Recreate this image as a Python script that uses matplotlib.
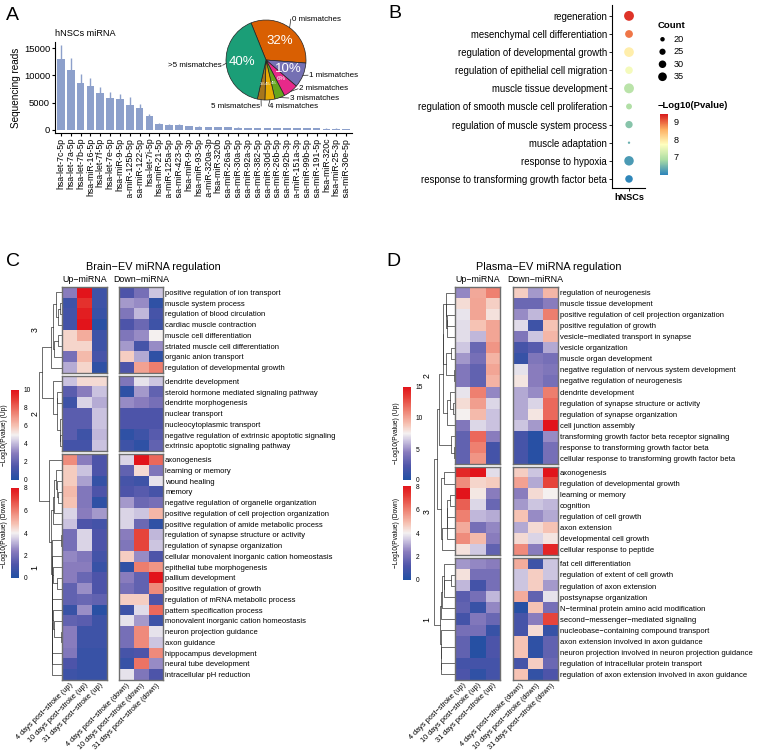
"""Multi-panel miRNA figure: read counts, GO dot plot and two clustered GO heatmaps."""

import numpy as np
import matplotlib
matplotlib.use("Agg")
import matplotlib.pyplot as plt
from matplotlib.colors import LinearSegmentedColormap, Normalize
from matplotlib.cm import ScalarMappable
from matplotlib.transforms import Bbox, TransformedBbox

W, H = 760, 756
plt.rcParams["font.family"] = ["Liberation Sans", "DejaVu Sans"]

# ---------------- panel A data ----------------
MIRNA = ["hsa-let-7c-5p", "hsa-let-7a-5p", "hsa-let-7b-5p", "hsa-miR-16-5p", "hsa-let-7f-5p",
         "hsa-let-7e-5p", "hsa-miR-9-5p", "hsa-miR-125b-5p", "hsa-miR-122-5p", "hsa-let-7i-5p",
         "hsa-miR-21-5p", "hsa-miR-125a-5p", "hsa-miR-423-5p", "hsa-miR-9-3p", "hsa-miR-93-5p",
         "hsa-miR-320a-3p", "hsa-miR-320b", "hsa-miR-26a-5p", "hsa-miR-30a-5p", "hsa-miR-92a-3p",
         "hsa-miR-382-5p", "hsa-miR-30d-5p", "hsa-miR-26b-5p", "hsa-miR-92b-3p", "hsa-miR-151a-3p",
         "hsa-miR-99b-5p", "hsa-miR-191-5p", "hsa-miR-320c", "hsa-miR-25-3p", "hsa-miR-30e-5p"]
READS = [13000, 11000, 8600, 8000, 6700, 5800, 5600, 4500, 4100, 2500,
         1100, 950, 900, 700, 600, 560, 540, 460, 420, 380,
         350, 330, 320, 310, 300, 290, 280, 270, 260, 250]
READS_SD = [2600, 2100, 1600, 1600, 1200, 1100, 900, 1600, 650, 500,
            200, 170, 150, 100, 80, 70, 60, 60, 50, 40,
            40, 30, 30, 30, 30, 25, 25, 25, 20, 20]

MISMATCH = ["0 mismatches", "1 mismatches", "2 mismatches", "3 mismatches",
            "4 mismatches", "5 mismatches", ">5 mismatches"]
MISMATCH_PCT = [32, 10, 6, 4, 4, 3, 40]
MISMATCH_COLORS = ["#D95F02", "#7570B3", "#E7298A", "#66A61E", "#E6AB02", "#A6761D", "#1B9E77"]

# ---------------- panel B data ----------------
GO_TERMS = ["regeneration", "mesenchymal cell differentiation", "regulation of developmental growth",
            "regulation of epithelial cell migration", "muscle tissue development",
            "regulation of smooth muscle cell proliferation", "regulation of muscle system process",
            "muscle adaptation", "response to hypoxia", "response to transforming growth factor beta"]
GO_COUNT = [41, 31, 40, 30, 41, 24, 29, 16, 39, 30]
GO_LOGP = [9.3, 8.9, 7.9, 7.6, 7.0, 6.9, 6.6, 6.4, 6.2, 6.0]
COUNT_BREAKS = [20, 25, 30, 35]
LOGP_TICKS = [7, 8, 9]

# ---------------- panel C data (Brain-EV) ----------------
COLS_UP = ["4 days post\u2212stroke (up)", "10 days post\u2212stroke (up)", "31 days post\u2212stroke (up)"]
COLS_DOWN = ["4 days post\u2212stroke (down)", "10 days post\u2212stroke (down)", "31 days post\u2212stroke (down)"]

BRAIN_CLUSTERS = ["3", "2", "1"]
BRAIN_TERMS = [
    ["positive regulation of ion transport", "muscle system process", "regulation of blood circulation",
     "cardiac muscle contraction", "muscle cell differentiation", "striated muscle cell differentiation",
     "organic anion transport", "regulation of developmental growth"],
    ["dendrite development", "steroid hormone mediated signaling pathway", "dendrite morphogenesis",
     "nuclear transport", "nucleocytoplasmic transport",
     "negative regulation of extrinsic apoptotic signaling", "extrinsic apoptotic signaling pathway"],
    ["axonogenesis", "learning or memory", "wound healing", "memory",
     "negative regulation of organelle organization", "positive regulation of cell projection organization",
     "positive regulation of amide metabolic process", "regulation of synapse structure or activity",
     "regulation of synapse organization", "cellular monovalent inorganic cation homeostasis",
     "epithelial tube morphogenesis", "pallium development", "positive regulation of growth",
     "regulation of mRNA metabolic process", "pattern specification process",
     "monovalent inorganic cation homeostasis", "neuron projection guidance", "axon guidance",
     "hippocampus development", "neural tube development", "intracellular pH reduction"],
]
BRAIN_UP = [
    [[3.0, 10.0, 1.0], [1.0, 9.2, 1.0], [1.2, 9.7, 0.8], [1.2, 10.0, 0.3],
     [5.6, 6.5, 1.0], [5.6, 5.6, 1.0], [2.5, 6.2, 1.3], [3.8, 5.6, 0.5]],
    [[4.2, 5.5, 5.5], [1.8, 3.0, 4.2], [1.0, 4.5, 3.8], [1.8, 1.8, 4.2],
     [1.8, 1.8, 4.2], [1.8, 1.0, 4.0], [1.2, 1.2, 4.2]],
    [[7.2, 3.0, 1.5], [5.8, 4.2, 1.5], [5.8, 3.6, 0.7], [6.2, 2.8, 1.5], [6.0, 2.8, 0.5],
     [4.5, 3.0, 3.5], [4.2, 1.5, 1.2], [2.5, 4.5, 1.5], [2.5, 4.5, 1.5], [3.2, 2.8, 1.2],
     [3.0, 3.0, 0.8], [3.0, 2.2, 1.5], [2.0, 3.3, 1.5], [2.0, 2.2, 2.0], [0.8, 3.3, 0.3],
     [2.0, 1.8, 1.0], [3.0, 1.0, 1.0], [3.0, 1.0, 1.0], [2.8, 0.8, 0.8], [1.5, 0.8, 0.8],
     [1.0, 0.8, 0.8]],
]
BRAIN_DOWN = [
    [[1.2, 2.0, 3.4], [2.8, 2.6, 0.4], [2.2, 3.2, 1.0], [1.2, 1.8, 0.8],
     [2.2, 2.6, 4.0], [2.8, 1.0, 2.6], [4.6, 3.0, 0.4], [1.2, 5.4, 6.0]],
    [[2.2, 3.8, 3.4], [0.4, 2.8, 1.6], [2.6, 2.4, 2.0], [1.2, 1.2, 1.2],
     [1.2, 1.2, 1.2], [0.4, 0.8, 1.4], [0.8, 0.4, 1.6]],
    [[3.6, 8.0, 6.4], [1.6, 4.4, 2.2], [1.0, 0.8, 3.8], [1.2, 1.4, 1.0], [2.8, 1.8, 2.0],
     [3.6, 3.4, 5.0], [3.6, 1.8, 0.4], [2.4, 7.0, 3.2], [2.2, 7.0, 3.4], [4.6, 2.6, 1.2],
     [0.4, 6.0, 5.6], [2.4, 1.6, 8.0], [2.0, 1.6, 5.8], [4.6, 4.6, 1.2], [0.8, 3.7, 6.4],
     [3.8, 2.8, 0.8], [2.0, 5.8, 3.8], [2.0, 5.8, 3.4], [1.0, 1.2, 5.8], [0.6, 6.2, 2.6],
     [3.8, 2.2, 1.2]],
]

# ---------------- panel D data (Plasma-EV) ----------------
PLASMA_CLUSTERS = ["2", "3", "1"]
PLASMA_TERMS = [
    ["regulation of neurogenesis", "muscle tissue development",
     "positive regulation of cell projection organization", "positive regulation of growth",
     "vesicle\u2212mediated transport in synapse", "vesicle organization", "muscle organ development",
     "negative regulation of nervous system development", "negative regulation of neurogenesis",
     "dendrite development", "regulation of synapse structure or activity",
     "regulation of synapse organization", "cell junction assembly",
     "transforming growth factor beta receptor signaling", "response to transforming growth factor beta",
     "cellular response to transforming growth factor beta"],
    ["axonogenesis", "regulation of developmental growth", "learning or memory", "cognition",
     "regulation of cell growth", "axon extension", "developmental cell growth",
     "cellular response to peptide"],
    ["fat cell differentiation", "regulation of extent of cell growth", "regulation of axon extension",
     "postsynapse organization", "N\u2212terminal protein amino acid modification",
     "second\u2212messenger\u2212mediated signaling", "nucleobase\u2212containing compound transport",
     "axon extension involved in axon guidance",
     "neuron projection involved in neuron projection guidance",
     "regulation of intracellular protein transport",
     "regulation of axon extension involved in axon guidance"],
]
PLASMA_UP = [
    [[4.8, 9.9, 11.2], [8.2, 10.0, 8.6], [7.2, 10.0, 8.0], [7.0, 9.0, 10.0], [7.0, 6.0, 10.0],
     [6.4, 3.3, 10.5], [5.2, 3.8, 9.5], [4.2, 3.0, 10.0], [4.2, 3.0, 9.5], [7.2, 11.2, 4.8],
     [8.2, 10.2, 6.8], [7.5, 9.3, 6.3], [4.2, 6.8, 6.3], [3.0, 12.0, 4.5], [3.0, 11.2, 1.8],
     [3.0, 10.5, 1.8]],
    [[14.2, 15.0, 7.0], [10.8, 8.4, 8.7], [15.0, 7.8, 4.5], [12.3, 6.8, 3.3],
     [11.2, 6.0, 5.7], [9.8, 3.8, 4.8], [10.8, 9.3, 4.5], [8.0, 6.5, 3.0]],
    [[5.2, 4.8, 4.5], [8.0, 3.8, 3.8], [6.0, 1.8, 3.8], [2.7, 3.8, 6.0], [3.0, 1.2, 4.8],
     [1.8, 4.2, 3.3], [3.8, 3.8, 1.2], [3.0, 0.3, 2.2], [3.0, 0.3, 2.2], [1.8, 1.8, 1.8],
     [2.2, 0.8, 1.8]],
]
PLASMA_DOWN = [
    [[4.6, 2.8, 5.0], [1.8, 1.8, 2.4], [2.6, 3.2, 6.0], [3.7, 0.8, 4.8], [2.2, 3.4, 5.0],
     [1.0, 1.4, 3.0], [0.6, 2.2, 2.0], [3.8, 2.4, 2.2], [4.2, 2.4, 2.0], [3.0, 2.6, 6.0],
     [3.0, 3.6, 6.4], [3.0, 4.2, 6.4], [3.4, 2.8, 8.0], [1.0, 0.2, 2.6], [1.0, 0.2, 2.0],
     [1.0, 0.2, 2.0]],
    [[4.6, 3.4, 8.0], [5.4, 3.0, 7.0], [2.4, 4.4, 4.0], [2.8, 3.4, 3.2],
     [4.8, 2.6, 3.0], [3.0, 4.4, 4.8], [4.4, 3.6, 4.2], [5.8, 2.4, 7.6]],
    [[5.2, 0.8, 3.4], [3.4, 4.6, 3.4], [3.4, 4.6, 2.8], [5.2, 1.6, 3.8], [0.2, 4.8, 2.0],
     [1.0, 2.4, 7.0], [1.0, 4.4, 0.6], [4.8, 0.4, 1.6], [4.8, 0.4, 1.6], [1.0, 4.6, 1.8],
     [4.8, 0.5, 1.2]],
]

HEAT_CMAP = LinearSegmentedColormap.from_list("bwr_lab", [
    (0.00, "#2150A3"), (0.15, "#4E55AA"), (0.30, "#8A7DBE"), (0.42, "#CBC3E0"),
    (0.50, "#F4F1F1"), (0.60, "#F6C3B4"), (0.75, "#EE8070"), (0.90, "#E53A33"),
    (1.00, "#E2141B")])
SPECTRAL5 = LinearSegmentedColormap.from_list(
    "spec5", ["#2B83BA", "#ABDDA4", "#FFFFBF", "#FDAE61", "#D7191C"])
BAR_C = "#8DA0CB"


def box(x0, y0, x1, y1):
    """Pixel box (top-left origin) -> figure fraction rect."""
    return [x0 / W, 1 - y1 / H, (x1 - x0) / W, (y1 - y0) / H]


def panel_a(fig):
    ax = fig.add_axes(box(55, 42, 352, 133))
    x = np.arange(len(MIRNA))
    reads = np.array(READS, dtype=float)
    ax.bar(x, reads, width=0.78, color=BAR_C)
    ax.errorbar(x, reads, yerr=[np.zeros_like(reads), READS_SD], fmt="none",
                ecolor=BAR_C, elinewidth=1.0, capsize=0)
    ax.set_xlim(-0.6, len(MIRNA) - 0.4)
    ax.set_ylim(-550, 16100)
    ax.set_yticks([0, 5000, 10000, 15000])
    ax.set_xticks(x, MIRNA, rotation=90, fontsize=6.3)
    ax.tick_params(axis="y", labelsize=6.8, length=2, pad=1.5)
    ax.tick_params(axis="x", length=2, pad=1.5)
    for s in ("top", "right"):
        ax.spines[s].set_visible(False)
    for s in ("left", "bottom"):
        ax.spines[s].set_linewidth(0.8)
    ax.set_ylabel("Sequencing reads", fontsize=7.2, labelpad=2)
    clip = TransformedBbox(Bbox.from_extents(0, 1 - 198 / H, 1, 1), fig.transFigure)
    for lbl in ax.get_xticklabels():
        lbl.set_clip_box(clip)
        lbl.set_clip_on(True)
    fig.text(55 / W, 1 - 33 / H, "hNSCs miRNA", fontsize=6.6, va="center")

    # pie of mismatches
    pax = fig.add_axes(box(226, 20, 306, 100))
    wedges, _, autotexts = pax.pie(
        MISMATCH_PCT, colors=MISMATCH_COLORS, startangle=112, counterclock=False,
        wedgeprops=dict(edgecolor="#222222", linewidth=0.5),
        autopct=lambda p: f"{p:.0f}%", pctdistance=0.6)
    for t, v in zip(autotexts, MISMATCH_PCT):
        t.set_color("white")
        t.set_fontsize(9.5 if v >= 10 else (4.5 if v >= 5 else 3))
    pax.set_xlim(-1, 1)
    pax.set_ylim(-1, 1)
    label_pos = [(0.62, 1.02, "left"), (1.05, -0.38, "left"), (0.80, -0.72, "left"),
                 (0.57, -0.95, "left"), (0.06, -1.15, "left"), (-0.12, -1.15, "right"),
                 (-1.08, -0.13, "right")]
    for w, name, (tx, ty, ha) in zip(wedges, MISMATCH, label_pos):
        ang = np.deg2rad((w.theta1 + w.theta2) / 2)
        px, py = np.cos(ang), np.sin(ang)
        pax.plot([px, tx], [py, ty], color="#222222", lw=0.5, clip_on=False)
        pax.text(tx + (0.02 if ha == "left" else -0.02), ty, name, fontsize=5.8,
                 ha=ha, va="center", clip_on=False)


def panel_b(fig):
    ax = fig.add_axes(box(612, 5, 645, 188))
    y = np.arange(len(GO_TERMS))
    sizes = 1.9 * (np.array(GO_COUNT) - 14.5)
    norm = Normalize(5.97, 9.45)
    ax.scatter(np.ones(len(y)), y, s=sizes, c=GO_LOGP, cmap=SPECTRAL5, norm=norm,
               linewidths=0)
    ax.set_xlim(0, 1.94)
    ax.set_ylim(9.5, -0.6)
    ax.set_yticks(y, GO_TERMS, fontsize=6.9)
    ax.set_xticks([1], ["hNSCs"], fontsize=6.6, fontweight="bold")
    ax.tick_params(length=2, pad=1.5, width=0.6)
    for s in ("top", "right"):
        ax.spines[s].set_visible(False)
    for s in ("left", "bottom"):
        ax.spines[s].set_linewidth(0.8)

    # size legend
    lax = fig.add_axes(box(655, 33, 700, 83))
    ly = np.arange(len(COUNT_BREAKS))
    lax.scatter(np.zeros(len(ly)), ly, s=1.9 * (np.array(COUNT_BREAKS) - 14.5), color="black",
                linewidths=0)
    for yy, c in zip(ly, COUNT_BREAKS):
        lax.text(0.9, yy, str(c), fontsize=6.6, va="center")
    lax.set_xlim(-0.6, 3)
    lax.set_ylim(3.5, -0.5)
    lax.axis("off")
    fig.text(658 / W, 1 - 25 / H, "Count", fontsize=6.8, fontweight="bold", va="center")

    cax = fig.add_axes(box(660, 114, 668, 175))
    cb = fig.colorbar(ScalarMappable(norm, SPECTRAL5), cax=cax, ticks=LOGP_TICKS)
    cb.outline.set_visible(False)
    cax.tick_params(labelsize=6.6, length=2, width=0.5, color="white", pad=2)
    fig.text(658 / W, 1 - 106 / H, "\u2212Log10(Pvalue)", fontsize=6.8,
             fontweight="bold", va="center")


def adjacent_tree(ax, X, ys, color="#333333"):
    """Order-preserving average-linkage clustering of consecutive rows; draws the tree."""
    nodes = [(np.array([i]), y, 0.0) for i, y in enumerate(ys)]
    while len(nodes) > 1:
        d = [np.mean(np.linalg.norm(X[a[0]][:, None, :] - X[b[0]][None, :, :], axis=2))
             for a, b in zip(nodes[:-1], nodes[1:])]
        i = int(np.argmin(d))
        a, b = nodes[i], nodes[i + 1]
        h = max(d[i], a[2], b[2]) + 0.01
        ax.plot([a[2], h, h, b[2]], [a[1], a[1], b[1], b[1]], color=color, lw=0.5)
        nodes[i:i + 2] = [(np.concatenate([a[0], b[0]]), (a[1] + b[1]) / 2, h)]
    return nodes[0]


def heat_panel(fig, terms, ups, downs, clusters, up_max, down_max, up_ticks, down_ticks,
               up_x, down_x, dendro_x0, merge_f, clab_x, cb_x, cb_up_y, cb_dn_y,
               title, title_x, letter, letter_x):
    top, bottom, gap = 287, 680, 3
    n_rows = [len(t) for t in terms]
    row_h = (bottom - top - gap * (len(terms) - 1)) / sum(n_rows)
    dax = fig.add_axes(box(dendro_x0, top, up_x[0], bottom))
    roots = []
    y0 = top
    for k, (t, up, dn) in enumerate(zip(terms, ups, downs)):
        n = len(t)
        y1 = y0 + n * row_h
        up_a = np.array(up) / up_max
        dn_a = np.array(dn) / down_max
        last = k == len(terms) - 1
        for (xa, xb), arr, cols in ((up_x, up_a, COLS_UP), (down_x, dn_a, COLS_DOWN)):
            ax = fig.add_axes(box(xa, y0, xb, y1))
            ax.imshow(arr, cmap=HEAT_CMAP, vmin=0, vmax=1, aspect="auto",
                      interpolation="nearest")
            for s in ax.spines.values():
                s.set_color("#6E6E6E")
                s.set_linewidth(1.0)
            ax.set_yticks([])
            ax.set_xticks([])
            if last:
                ax.set_xticks(range(3))
                ax.set_xticklabels(cols, rotation=45, ha="right", rotation_mode="anchor",
                                   fontsize=5.3)
                ax.tick_params(axis="x", length=0, pad=1.5)
            if cols is COLS_DOWN:
                ax.yaxis.tick_right()
                ax.set_yticks(range(n))
                ax.set_yticklabels(t, fontsize=5.5)
                ax.tick_params(axis="y", length=0, pad=1.5)
        ys = y0 + row_h * (np.arange(n) + 0.5)
        X = np.hstack([up_a, dn_a])
        roots.append(adjacent_tree(dax, X, ys))
        fig.text(clab_x / W, 1 - (y0 + y1) / 2 / H, clusters[k], rotation=90, fontsize=6.3,
                 ha="center", va="center")
        y0 = y1 + gap
    hmax = max(r[2] for r in roots)
    h1, h2 = hmax * merge_f[0], hmax * merge_f[1]
    a, b, c = roots
    dax.plot([a[2], h1, h1, b[2]], [a[1], a[1], b[1], b[1]], color="#333333", lw=0.5)
    ab_y = (a[1] + b[1]) / 2
    dax.plot([h1, h2, h2, c[2]], [ab_y, ab_y, c[1], c[1]], color="#333333", lw=0.5)
    dax.set_ylim(bottom, top)
    dax.set_xlim(h2 * 1.02, 0)
    dax.axis("off")

    for (ya, yb), vmax, ticks, lab in ((cb_up_y, up_max, up_ticks, "\u2212Log10(Pvalue) (Up)"),
                                       (cb_dn_y, down_max, down_ticks, "\u2212Log10(Pvalue) (Down)")):
        cax = fig.add_axes(box(cb_x, ya, cb_x + 8, yb))
        cb = fig.colorbar(ScalarMappable(Normalize(0, vmax), HEAT_CMAP), cax=cax, ticks=ticks)
        cb.outline.set_visible(False)
        cax.tick_params(labelsize=4.8, length=2, width=0.4, color="white", pad=1.5)
        cb.set_label(lab, fontsize=4.8, labelpad=2)
        cax.yaxis.set_label_position("left")

    fig.text(((up_x[0] + up_x[1]) / 2) / W, 1 - 280 / H, "Up\u2212miRNA", fontsize=6.4,
             ha="center", va="center")
    fig.text(((down_x[0] + down_x[1]) / 2) / W, 1 - 280 / H, "Down\u2212miRNA", fontsize=6.4,
             ha="center", va="center")
    fig.text(title_x / W, 1 - 267 / H, title, fontsize=7.8, ha="center", va="center")
    fig.text(letter_x / W, 1 - 262 / H, letter, fontsize=14, ha="left", va="center")


def main():
    fig = plt.figure(figsize=(W / 100, H / 100), dpi=100)
    panel_a(fig)
    panel_b(fig)
    heat_panel(fig, BRAIN_TERMS, BRAIN_UP, BRAIN_DOWN, BRAIN_CLUSTERS, 10, 8,
               [0, 2, 4, 6, 8, 10], [0, 2, 4, 6, 8],
               up_x=(62, 107), down_x=(119, 163), dendro_x0=39, merge_f=(1.55, 1.75),
               clab_x=35, cb_x=11, cb_up_y=(390, 480), cb_dn_y=(488, 578),
               title="Brain\u2212EV miRNA regulation", title_x=153, letter="C", letter_x=6)
    heat_panel(fig, PLASMA_TERMS, PLASMA_UP, PLASMA_DOWN, PLASMA_CLUSTERS, 15, 8,
               [0, 5, 10, 15], [0, 2, 4, 6, 8],
               up_x=(455, 500), down_x=(513, 558), dendro_x0=434, merge_f=(1.15, 1.3),
               clab_x=427, cb_x=403, cb_up_y=(387, 480), cb_dn_y=(486, 580),
               title="Plasma\u2212EV miRNA regulation", title_x=549, letter="D", letter_x=386)
    fig.text(6 / W, 1 - 16 / H, "A", fontsize=14, ha="left", va="center")
    fig.text(388 / W, 1 - 14 / H, "B", fontsize=14, ha="left", va="center")
    fig.savefig("out.png", dpi=100)
    plt.close(fig)


if __name__ == "__main__":
    main()
